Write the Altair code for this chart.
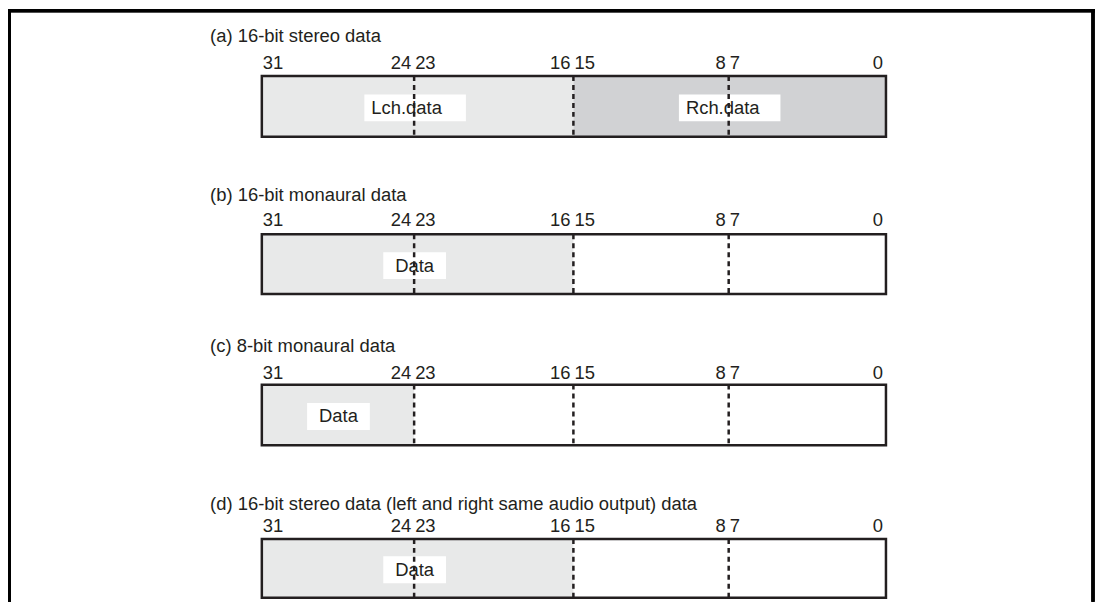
import altair as alt
import pandas as pd

# ---------------- data ----------------
panel_ids = ["a", "b", "c", "d"]
panel_titles = [
    "(a) 16-bit stereo data",
    "(b) 16-bit monaural data",
    "(c) 8-bit monaural data",
    "(d) 16-bit stereo data (left and right same audio output) data",
]

# shaded fields: panel, high edge bit, low edge bit, shade
field_panel = ["a", "a", "b", "c", "d"]
field_hi = [32, 16, 32, 32, 32]
field_lo = [16, 0, 16, 24, 16]
field_shade = ["light", "dark", "light", "light", "light"]

# field name labels
label_panel = ["a", "a", "b", "c", "d"]
label_text = ["Lch.data", "Rch.data", "Data", "Data", "Data"]
label_bit = [24, 8, 24, 28, 24]
label_kind = ["wide", "wide", "narrow", "narrow", "narrow"]

divider_bits = [24, 16, 8]
bit_numbers = [31, 24, 23, 16, 15, 8, 7, 0]

# ---------------- layout (pixels) ----------------
ROW_TITLE_Y = [27, 187, 338, 497]
ROW_LABEL_Y = [54, 212, 365, 519]
ROW_TOP = [67, 226, 377, 532]
ROW_BOTTOM = [128, 286, 438, 591]
W, H = 1092, 595
FONT = "Liberation Sans"
FS = 18.5
INK = "#231f20"
LIGHT = "#e8e9e9"
DARK = "#d1d2d4"

row = {p: i for i, p in enumerate(panel_ids)}

panels = pd.DataFrame({
    "panel": panel_ids,
    "title": panel_titles,
    "ty": ROW_TITLE_Y,
    "ly": ROW_LABEL_Y,
    "top": ROW_TOP,
    "bottom": ROW_BOTTOM,
    "hi": [32] * 4,
    "lo": [0] * 4,
})

fields = pd.DataFrame({
    "panel": field_panel, "hi": field_hi, "lo": field_lo, "shade": field_shade,
})
fields["top"] = [ROW_TOP[row[p]] for p in field_panel]
fields["bottom"] = [ROW_BOTTOM[row[p]] for p in field_panel]

labels = pd.DataFrame({
    "panel": label_panel, "text": label_text, "bit": label_bit, "kind": label_kind,
})
labels["mid"] = [(ROW_TOP[row[p]] + ROW_BOTTOM[row[p]]) / 2 for p in label_panel]
labels["ry"] = labels["mid"] - 12
labels["ry2"] = labels["mid"] + 15
labels["cy"] = labels["mid"] + 1.5

dividers = pd.DataFrame([
    {"panel": p, "bit": b, "top": ROW_TOP[i], "bottom": ROW_BOTTOM[i]}
    for i, p in enumerate(panel_ids) for b in divider_bits
])

nums = pd.DataFrame([
    {"panel": p, "num": str(n), "edge": (n + 1) if n % 2 else n,
     "side": "left" if n % 2 else "right", "ly": ROW_LABEL_Y[i]}
    for i, p in enumerate(panel_ids) for n in bit_numbers
])

xscale = alt.Scale(domain=[32, 24, 16, 8, 0], range=[255, 408, 568, 724, 882], nice=False, zero=False)

fill_layer = alt.Chart(fields).mark_rect(strokeWidth=0).encode(
    x=alt.X("hi:Q", scale=xscale, axis=None),
    x2="lo:Q",
    y=alt.Y("top:Q", scale=None),
    y2="bottom:Q",
    color=alt.Color("shade:N", scale=alt.Scale(domain=["light", "dark"], range=[LIGHT, DARK]), legend=None),
)

rect_wide = alt.Chart(labels).transform_filter("datum.kind == 'wide'").mark_rect(
    fill="white", xOffset=-50, x2Offset=52
).encode(
    x=alt.X("bit:Q", scale=xscale, axis=None), x2="bit:Q",
    y=alt.Y("ry:Q", scale=None), y2="ry2:Q",
)
rect_narrow = alt.Chart(labels).transform_filter("datum.kind == 'narrow'").mark_rect(
    fill="white", xOffset=-31, x2Offset=32
).encode(
    x=alt.X("bit:Q", scale=xscale, axis=None), x2="bit:Q",
    y=alt.Y("ry:Q", scale=None), y2="ry2:Q",
)
text_wide = alt.Chart(labels).transform_filter("datum.kind == 'wide'").mark_text(
    align="left", baseline="middle", dx=-43, font=FONT, fontSize=FS, color=INK
).encode(
    x=alt.X("bit:Q", scale=xscale, axis=None),
    y=alt.Y("cy:Q", scale=None),
    text="text:N",
)
text_narrow = alt.Chart(labels).transform_filter("datum.kind == 'narrow'").mark_text(
    align="center", baseline="middle", dx=0.5, font=FONT, fontSize=FS, color=INK
).encode(
    x=alt.X("bit:Q", scale=xscale, axis=None),
    y=alt.Y("cy:Q", scale=None),
    text="text:N",
)

divider_layer = alt.Chart(dividers).mark_rule(
    color=INK, strokeWidth=2.5, strokeDash=[5, 4]
).encode(
    x=alt.X("bit:Q", scale=xscale, axis=None),
    y=alt.Y("top:Q", scale=None),
    y2="bottom:Q",
)

outline_layer = alt.Chart(panels).mark_rect(
    fillOpacity=0, stroke=INK, strokeWidth=2.5
).encode(
    x=alt.X("hi:Q", scale=xscale, axis=None),
    x2="lo:Q",
    y=alt.Y("top:Q", scale=None),
    y2="bottom:Q",
)

num_left = alt.Chart(nums).transform_filter("datum.side == 'left'").mark_text(
    align="left", baseline="middle", dx=1, font=FONT, fontSize=FS, color=INK
).encode(
    x=alt.X("edge:Q", scale=xscale, axis=None),
    y=alt.Y("ly:Q", scale=None),
    text="num:N",
)
num_right = alt.Chart(nums).transform_filter("datum.side == 'right'").mark_text(
    align="right", baseline="middle", dx=-3, font=FONT, fontSize=FS, color=INK
).encode(
    x=alt.X("edge:Q", scale=xscale, axis=None),
    y=alt.Y("ly:Q", scale=None),
    text="num:N",
)

title_layer = alt.Chart(panels).mark_text(
    align="left", baseline="middle", dx=-52, font=FONT, fontSize=FS, color=INK
).encode(
    x=alt.X("hi:Q", scale=xscale, axis=None),
    y=alt.Y("ty:Q", scale=None),
    text="title:N",
)

frame_left = alt.Chart(panels).mark_rule(color="black", strokeWidth=3).encode(
    x=alt.value(1.5), y=alt.value(0), y2=alt.value(H)
)
frame_top = alt.Chart(panels).mark_rule(color="black", strokeWidth=3).encode(
    x=alt.value(0), x2=alt.value(W), y=alt.value(1.5)
)
frame_right = alt.Chart(panels).mark_rule(color="black", strokeWidth=3).encode(
    x=alt.value(1090), y=alt.value(0), y2=alt.value(H)
)

chart = alt.layer(
    fill_layer, rect_wide, rect_narrow, text_wide, text_narrow,
    divider_layer, outline_layer, num_left, num_right, title_layer,
    frame_left, frame_top, frame_right,
).properties(
    width=W, height=H, padding=0, autosize="none", background="white"
).configure_view(stroke=None)

chart.save("out.html", embed_options={"renderer": "svg", "actions": False})
